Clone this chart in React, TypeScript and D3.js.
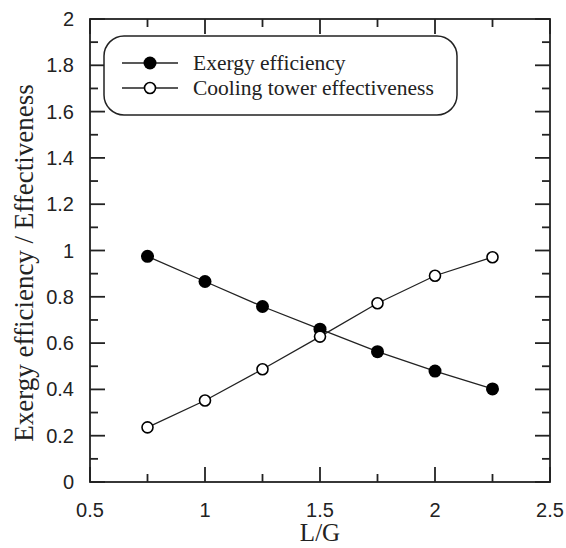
import React from "react";
import * as d3 from "d3";

// L/G ratios and the two measured series
const lgRatios = [0.75, 1.0, 1.25, 1.5, 1.75, 2.0, 2.25];
const exergyEfficiency = [0.975, 0.866, 0.758, 0.66, 0.563, 0.479, 0.402];
const towerEffectiveness = [0.236, 0.352, 0.487, 0.628, 0.772, 0.891, 0.971];

const xTickLabels = [0.5, 1, 1.5, 2, 2.5];
const yTickLabels = [0, 0.2, 0.4, 0.6, 0.8, 1, 1.2, 1.4, 1.6, 1.8, 2];
const seriesNames = ["Exergy efficiency", "Cooling tower effectiveness"];

const W = 566;
const H = 548;
const plot = { left: 90, right: 550, top: 19, bottom: 482 };

const SERIF = "'Liberation Serif', 'Times New Roman', serif";
const SANS = "'Liberation Sans', Arial, sans-serif";
const INK = "#222";

export default function App() {
  const x = d3.scaleLinear().domain([0.5, 2.5]).range([plot.left, plot.right]);
  const y = d3.scaleLinear().domain([0, 2]).range([plot.bottom, plot.top]);

  const line = d3
    .line<[number, number]>()
    .x((d) => x(d[0]))
    .y((d) => y(d[1]));

  const exPts = lgRatios.map((v, i) => [v, exergyEfficiency[i]] as [number, number]);
  const ctPts = lgRatios.map((v, i) => [v, towerEffectiveness[i]] as [number, number]);

  const xMajor = d3.range(0.5, 2.5001, 0.5);
  const xMinor = d3.range(0.75, 2.5, 0.5);
  const yMajor = d3.range(0, 2.0001, 0.2);
  const yMinor = d3.range(0.1, 2, 0.2);

  const MAJ = 15;
  const MIN = 8;

  const ticks: React.ReactNode[] = [];
  xMajor.forEach((v, i) => {
    ticks.push(<line key={`xb${i}`} x1={x(v)} x2={x(v)} y1={plot.bottom} y2={plot.bottom - MAJ} />);
    ticks.push(<line key={`xt${i}`} x1={x(v)} x2={x(v)} y1={plot.top} y2={plot.top + MAJ} />);
  });
  xMinor.forEach((v, i) => {
    ticks.push(<line key={`xbm${i}`} x1={x(v)} x2={x(v)} y1={plot.bottom} y2={plot.bottom - MIN} />);
    ticks.push(<line key={`xtm${i}`} x1={x(v)} x2={x(v)} y1={plot.top} y2={plot.top + MIN} />);
  });
  yMajor.forEach((v, i) => {
    ticks.push(<line key={`yl${i}`} x1={plot.left} x2={plot.left + MAJ} y1={y(v)} y2={y(v)} />);
    ticks.push(<line key={`yr${i}`} x1={plot.right} x2={plot.right - MAJ} y1={y(v)} y2={y(v)} />);
  });
  yMinor.forEach((v, i) => {
    ticks.push(<line key={`ylm${i}`} x1={plot.left} x2={plot.left + MIN} y1={y(v)} y2={y(v)} />);
    ticks.push(<line key={`yrm${i}`} x1={plot.right} x2={plot.right - MIN} y1={y(v)} y2={y(v)} />);
  });

  const legend = { x: 104, y: 36, w: 353, h: 79 };
  const legendRows = [63, 88];

  return (
    <svg width={W} height={H} style={{ position: "absolute", left: 0, top: 0, background: "#fff" }}>
      <rect width={W} height={H} fill="#fff" />

      {/* frame and inward ticks */}
      <g stroke={INK} strokeWidth={1.8} fill="none">
        <rect x={plot.left} y={plot.top} width={plot.right - plot.left} height={plot.bottom - plot.top} />
        {ticks}
      </g>

      {/* tick labels */}
      <g fontFamily={SANS} fontSize={20} fill={INK}>
        {xTickLabels.map((v) => (
          <text key={`xl${v}`} x={x(v)} y={517} textAnchor="middle">
            {String(v)}
          </text>
        ))}
        {yTickLabels.map((v) => (
          <text key={`yl${v}`} x={74} y={y(v) + 7} textAnchor="end">
            {String(v)}
          </text>
        ))}
      </g>

      {/* axis titles */}
      <text x={x(1.5)} y={541} textAnchor="middle" fontFamily={SERIF} fontSize={25} fill={INK}>
        L/G
      </text>
      <text
        transform="translate(33, 263) rotate(-90)"
        textAnchor="middle"
        fontFamily={SERIF}
        fontSize={27}
        fill={INK}
      >
        Exergy efficiency / Effectiveness
      </text>

      {/* series */}
      <path d={line(exPts) ?? ""} fill="none" stroke={INK} strokeWidth={1.3} />
      <path d={line(ctPts) ?? ""} fill="none" stroke={INK} strokeWidth={1.3} />
      {exPts.map((p, i) => (
        <circle key={`e${i}`} cx={x(p[0])} cy={y(p[1])} r={6.5} fill="#000" />
      ))}
      {ctPts.map((p, i) => (
        <circle key={`c${i}`} cx={x(p[0])} cy={y(p[1])} r={5.5} fill="#fff" stroke="#000" strokeWidth={1.6} />
      ))}

      {/* legend */}
      <rect
        x={legend.x}
        y={legend.y}
        width={legend.w}
        height={legend.h}
        rx={20}
        ry={20}
        fill="#fff"
        stroke={INK}
        strokeWidth={1.5}
      />
      {seriesNames.map((name, i) => (
        <g key={name}>
          <line x1={122} x2={178} y1={legendRows[i]} y2={legendRows[i]} stroke={INK} strokeWidth={1.3} />
          {i === 0 ? (
            <circle cx={150} cy={legendRows[i]} r={6.5} fill="#000" />
          ) : (
            <circle cx={150} cy={legendRows[i]} r={5.5} fill="#fff" stroke="#000" strokeWidth={1.6} />
          )}
          <text x={193} y={legendRows[i] + 7} fontFamily={SERIF} fontSize={21.5} fill={INK}>
            {name}
          </text>
        </g>
      ))}
    </svg>
  );
}
